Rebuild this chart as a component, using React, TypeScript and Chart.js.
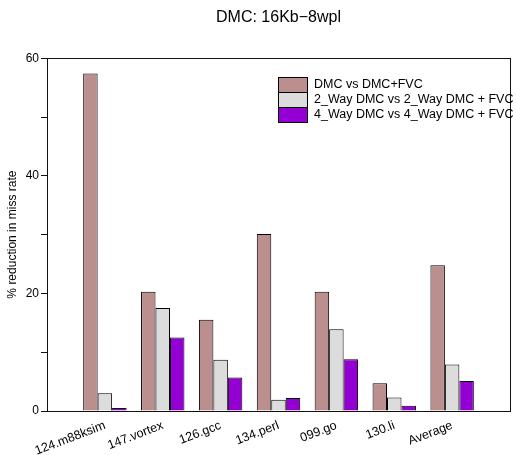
import React, { useEffect, useRef } from "react";
import { Chart, registerables } from "chart.js";

Chart.register(...registerables);

const categories = ["124.m88ksim", "147.vortex", "126.gcc", "134.perl", "099.go", "130.li", "Average"];
const seriesLabels = [
  "DMC vs DMC+FVC",
  "2_Way DMC vs 2_Way DMC + FVC",
  "4_Way DMC vs 4_Way DMC + FVC",
];
const dmcVsFvc = [57.4, 20.3, 15.5, 30.1, 20.3, 4.7, 24.8];
const twoWay = [3.0, 17.5, 8.7, 1.9, 13.9, 2.3, 7.9];
const fourWay = [0.5, 12.5, 5.7, 2.2, 8.8, 0.9, 5.1];
const colors = ["#BC8F8F", "#DCDCDC", "#9400D3"];
const yTicks = [0, 20, 40, 60];
const titleText = "DMC: 16Kb\u22128wpl";
const yTitle = "% reduction in miss rate";

const FONT = "'Liberation Sans', Arial, Helvetica, sans-serif";

const pad = (arr: number[]) => [null, ...arr, null];

const framePlugin = {
  id: "frame",
  afterDraw(chart: any) {
    const { ctx, chartArea } = chart;
    ctx.save();
    ctx.strokeStyle = "#111";
    ctx.lineWidth = 1;
    ctx.strokeRect(
      Math.round(chartArea.left) + 0.5,
      Math.round(chartArea.top) + 0.5,
      Math.round(chartArea.right - chartArea.left),
      Math.round(chartArea.bottom - chartArea.top)
    );
    // legend
    const boxX = 278;
    const boxW = 29;
    const rowH = 15;
    const startY = 77;
    ctx.font = `12.5px ${FONT}`;
    ctx.textBaseline = "middle";
    ctx.textAlign = "left";
    chart.data.datasets.forEach((ds: any, i: number) => {
      const y = startY + i * rowH;
      ctx.fillStyle = ds.backgroundColor;
      ctx.fillRect(boxX, y, boxW, rowH);
      ctx.strokeStyle = "#000";
      ctx.lineWidth = 1;
      ctx.strokeRect(boxX + 0.5, y + 0.5, boxW, rowH);
      ctx.fillStyle = "#000";
      ctx.fillText(ds.label, 314, y + rowH / 2 + 0.5);
    });
    ctx.restore();
  },
};

export default function App() {
  const ref = useRef<HTMLCanvasElement | null>(null);
  useEffect(() => {
    if (!ref.current) return;
    const chart = new Chart(ref.current, {
      type: "bar",
      data: {
        labels: ["", ...categories, ""],
        datasets: [
          { label: seriesLabels[0], data: pad(dmcVsFvc) as any, backgroundColor: colors[0], borderColor: "#000", borderWidth: 1 },
          { label: seriesLabels[1], data: pad(twoWay) as any, backgroundColor: colors[1], borderColor: "#000", borderWidth: 1 },
          { label: seriesLabels[2], data: pad(fourWay) as any, backgroundColor: colors[2], borderColor: "#000", borderWidth: 1 },
        ],
      },
      options: {
        responsive: false,
        animation: false,
        layout: { padding: { left: 0, right: 6, top: 0, bottom: 0 } },
        datasets: { bar: { categoryPercentage: 0.75, barPercentage: 1.0 } } as any,
        plugins: {
          legend: { display: false },
          tooltip: { enabled: false },
          title: {
            display: true,
            text: titleText,
            fullSize: false,
            color: "#000",
            font: { family: FONT, size: 16, weight: "normal" },
            padding: { top: 8, bottom: 31 },
          },
        },
        scales: {
          x: {
            type: "category",
            offset: false,
            grid: { display: false, drawTicks: false },
            border: { display: false },
            ticks: {
              color: "#000",
              font: { family: FONT, size: 12.5 },
              minRotation: 21,
              maxRotation: 21,
              autoSkip: false,
              padding: 7,
            },
            afterFit: (s: any) => {
              s.height = 44;
              s.paddingLeft = 0;
              s.paddingRight = 0;
            },
          },
          y: {
            min: 0,
            max: 60,
            grid: { display: true, drawOnChartArea: false, drawTicks: true, tickLength: 6, color: "#111" },
            border: { display: false },
            ticks: {
              stepSize: 10,
              color: "#000",
              padding: 2,
              font: { family: FONT, size: 12 },
              callback: (v: any) => (yTicks.includes(Number(v)) ? String(v) : ""),
            },
            title: {
              display: true,
              text: yTitle,
              color: "#000",
              font: { family: FONT, size: 12 },
              padding: { top: 5, bottom: 0 },
            },
            afterFit: (s: any) => {
              s.width = 47;
            },
          },
        },
      },
      plugins: [framePlugin],
    });
    return () => chart.destroy();
  }, []);
  return (
    <div style={{ position: "absolute", left: 0, top: 0, width: 516, height: 455, background: "#fff" }}>
      <canvas ref={ref} width={516} height={455} />
    </div>
  );
}
